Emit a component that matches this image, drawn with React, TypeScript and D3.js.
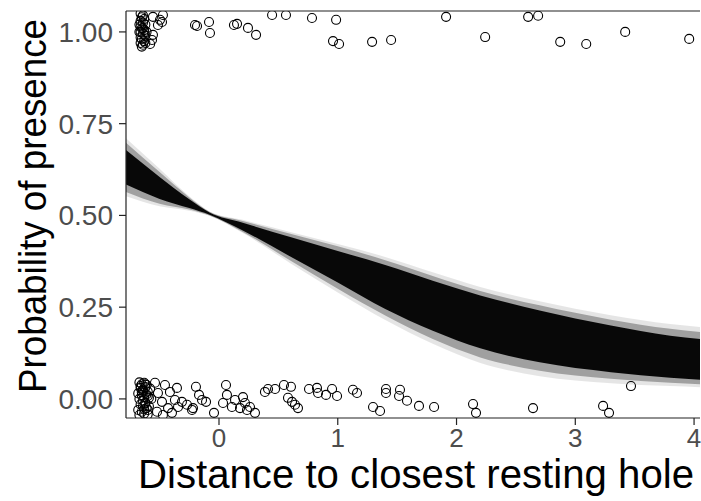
import React from "react";
import * as d3 from "d3";

// ---- data ----
const xTicks = [0, 1, 2, 3, 4];
const yTicks = [0, 0.25, 0.5, 0.75, 1];
const yTickLabels = ["0.00", "0.25", "0.50", "0.75", "1.00"];

// presence observations (distance, jittered presence)
const presenceX = [
  -0.66, -0.64, -0.65, -0.63, -0.66, -0.64, -0.62, -0.66, -0.65, -0.63, -0.67, -0.64,
  -0.62, -0.66, -0.65, -0.63, -0.66, -0.64, -0.65, -0.62, -0.67, -0.61, -0.64, -0.66,
  -0.556, -0.497, -0.472, -0.514, -0.48, -0.556, -0.564, -0.58,
  -0.202, -0.185, -0.084, -0.076, 0.126, 0.152, 0.244, 0.312, 0.447, 0.564, 0.783,
  0.986, 0.96, 1.011, 1.289, 1.449, 1.912, 2.241, 2.603, 2.687, 2.873, 3.092, 3.42, 3.959,
];
const presenceY = [
  1.05, 1.045, 1.04, 1.035, 1.03, 1.025, 1.02, 1.015, 1.01, 1.005, 1.0, 0.995,
  0.99, 0.985, 0.98, 0.975, 0.97, 0.965, 0.96, 0.97, 1.02, 1.0, 1.01, 1.0,
  1.041, 1.033, 1.046, 1.019, 1.027, 0.992, 0.978, 0.967,
  1.019, 1.016, 1.027, 0.997, 1.019, 1.022, 1.011, 0.992, 1.046, 1.046, 1.038,
  1.033, 0.975, 0.967, 0.973, 0.978, 1.041, 0.986, 1.041, 1.044, 0.973, 0.967, 1.0, 0.981,
];

// absence observations (distance, jittered presence)
const absenceX = [
  -0.67, -0.65, -0.63, -0.61, -0.66, -0.64, -0.62, -0.6, -0.68, -0.65, -0.63, -0.61,
  -0.67, -0.64, -0.62, -0.59, -0.66, -0.64, -0.61, -0.68, -0.65, -0.63, -0.6, -0.67,
  -0.64, -0.62, -0.66, -0.63, -0.6, -0.65, -0.62, -0.58, -0.59, -0.6, -0.57,
  -0.539, -0.455, -0.354, -0.413, -0.514, -0.48, -0.371, -0.312, -0.429, -0.522,
  -0.345, -0.219, -0.269, -0.396, -0.472,
  -0.194, -0.168, -0.143, -0.109, -0.227, -0.042,
  0.059, 0.067, 0.034, 0.109, 0.135, 0.202, 0.219, 0.261, 0.303, 0.177, 0.236,
  0.387, 0.413, 0.472, 0.547, 0.606, 0.581, 0.615, 0.64, 0.665, 0.758, 0.825,
  0.834, 0.901, 0.952, 0.994, 1.128, 1.162, 1.297, 1.356, 1.406, 1.406, 1.524, 1.516,
  1.583, 1.684, 1.811, 2.139, 2.164, 2.644, 3.234, 3.284, 3.469,
];
const absenceY = [
  0.045, 0.04, 0.044, 0.038, 0.03, 0.025, 0.032, 0.02, 0.015, 0.01, 0.005, 0.012,
  0.0, -0.005, -0.01, 0.003, -0.015, -0.02, -0.025, -0.03, -0.035, -0.04, -0.03, -0.044,
  0.022, -0.012, 0.035, -0.028, -0.042, 0.018, 0.04, 0.028, -0.02, 0.008, 0.0,
  0.044, 0.038, 0.03, 0.019, 0.016, -0.008, -0.003, -0.008, -0.025, -0.035,
  -0.022, -0.025, -0.016, -0.038, -0.044,
  0.033, 0.011, -0.003, -0.008, -0.03, -0.038,
  0.038, 0.011, -0.011, -0.022, -0.003, 0.005, -0.011, -0.022, -0.038, -0.025, -0.03,
  0.019, 0.027, 0.027, 0.038, 0.033, 0.003, -0.008, -0.016, -0.025, 0.027, 0.03,
  0.016, 0.011, 0.027, 0.008, 0.025, 0.016, -0.022, -0.033, 0.027, 0.016, 0.025, 0.008,
  -0.005, -0.019, -0.022, -0.014, -0.038, -0.025, -0.019, -0.038, 0.035,
];

// posterior band of fitted curves
const bandX = [-0.79, -0.5, -0.25, -0.08, 0.2, 0.6, 1.0, 1.4, 1.8, 2.2, 2.7, 3.3, 3.8, 4.06];
const outerLo = [0.553, 0.525, 0.513, 0.499, 0.452, 0.37, 0.29, 0.215, 0.15, 0.098, 0.062, 0.043, 0.035, 0.032];
const outerHi = [0.712, 0.627, 0.552, 0.511, 0.488, 0.455, 0.422, 0.387, 0.345, 0.305, 0.266, 0.228, 0.204, 0.196];
const midLo = [0.565, 0.532, 0.516, 0.5, 0.455, 0.377, 0.3, 0.227, 0.163, 0.113, 0.077, 0.055, 0.044, 0.04];
const midHi = [0.7, 0.618, 0.549, 0.51, 0.485, 0.45, 0.416, 0.378, 0.335, 0.294, 0.255, 0.216, 0.191, 0.182];
const coreLo = [0.585, 0.545, 0.52, 0.502, 0.459, 0.388, 0.317, 0.245, 0.186, 0.138, 0.1, 0.073, 0.058, 0.052];
const coreHi = [0.68, 0.605, 0.544, 0.508, 0.48, 0.441, 0.403, 0.365, 0.322, 0.282, 0.241, 0.2, 0.172, 0.163];

const xTitle = "Distance to closest resting hole";
const yTitle = "Probability of presence";

export default function App() {
  const W = 701, H = 501;
  const L = 126, R = 700, T = 11, B = 418;
  const x = d3.scaleLinear().domain([-0.783, 4.05]).range([L, R]);
  const y = d3.scaleLinear().domain([-0.052, 1.057]).range([B, T]);

  const mkArea = (lo: number[], hi: number[]) =>
    d3
      .area<number>()
      .x((_, i) => x(bandX[i]))
      .y0((_, i) => y(lo[i]))
      .y1((_, i) => y(hi[i]))
      .curve(d3.curveMonotoneX)(bandX) as string;

  const bands = [
    { lo: outerLo, hi: outerHi, op: 0.1 },
    { lo: midLo, hi: midHi, op: 0.3 },
    { lo: coreLo, hi: coreHi, op: 0.95 },
  ];

  const font = "'Liberation Sans', Arial, sans-serif";

  return (
    <svg
      width={W}
      height={H}
      style={{ position: "absolute", left: 0, top: 0, background: "#fff" }}
    >
      <defs>
        <clipPath id="plotclip">
          <rect x={L} y={T} width={R - L} height={B - T} />
        </clipPath>
      </defs>
      <rect x={0} y={0} width={W} height={H} fill="#fff" />
      <g clipPath="url(#plotclip)">
        {bands.map((b, i) => (
          <path key={i} d={mkArea(b.lo, b.hi)} fill="#000" fillOpacity={b.op} />
        ))}
        {presenceX.map((v, i) => (
          <circle key={"p" + i} cx={x(v)} cy={y(presenceY[i])} r={4.5} fill="none" stroke="#000" strokeWidth={1.1} />
        ))}
        {absenceX.map((v, i) => (
          <circle key={"a" + i} cx={x(v)} cy={y(absenceY[i])} r={4.5} fill="none" stroke="#000" strokeWidth={1.1} />
        ))}
      </g>
      {/* panel lines */}
      <line x1={L} x2={R} y1={T} y2={T} stroke="#222" strokeWidth={1.2} />
      <line x1={L} x2={L} y1={T} y2={B} stroke="#222" strokeWidth={1.2} />
      <line x1={L} x2={R} y1={B} y2={B} stroke="#222" strokeWidth={1.2} />
      {/* y ticks */}
      {yTicks.map((t, i) => (
        <g key={"yt" + i}>
          <line x1={L - 7} x2={L} y1={y(t)} y2={y(t)} stroke="#222" strokeWidth={1.2} />
          <text x={L - 13} y={y(t) + 10} textAnchor="end" fontFamily={font} fontSize={28} fill="#4d4d4d">
            {yTickLabels[i]}
          </text>
        </g>
      ))}
      {/* x ticks */}
      {xTicks.map((t) => (
        <g key={"xt" + t}>
          <line x1={x(t)} x2={x(t)} y1={B} y2={B + 7} stroke="#222" strokeWidth={1.2} />
          <text x={x(t)} y={B + 29} textAnchor="middle" fontFamily={font} fontSize={26} fill="#4d4d4d">
            {t}
          </text>
        </g>
      ))}
      <text
        x={(L + R) / 2 + 3}
        y={488}
        textAnchor="middle"
        fontFamily={font}
        fontSize={40}
        textLength={556}
        lengthAdjust="spacingAndGlyphs"
        fill="#000"
      >
        {xTitle}
      </text>
      <text
        transform={`translate(46, 206) rotate(-90)`}
        textAnchor="middle"
        fontFamily={font}
        fontSize={38}
        textLength={374}
        lengthAdjust="spacingAndGlyphs"
        fill="#000"
      >
        {yTitle}
      </text>
    </svg>
  );
}
